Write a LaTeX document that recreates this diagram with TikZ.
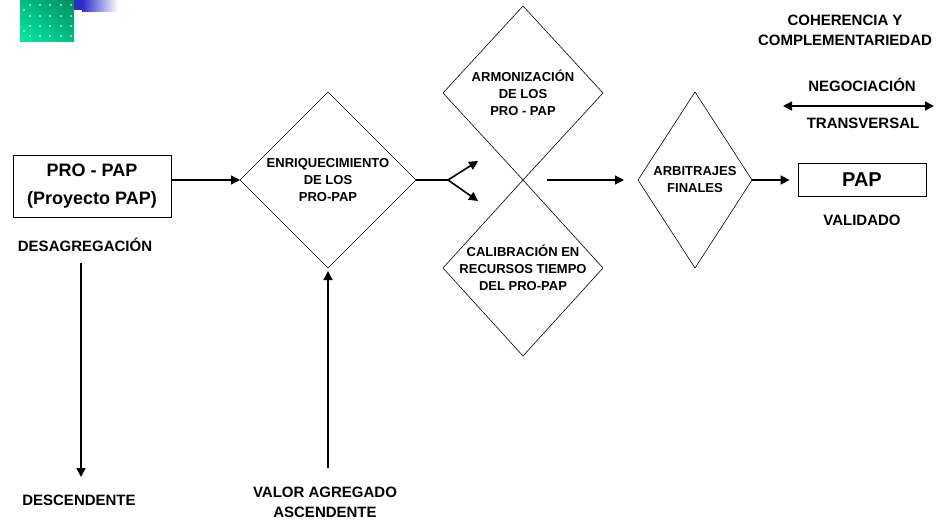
\documentclass[tikz,border=0pt]{standalone}
\usepackage{fontspec}
\setmainfont{Liberation Sans}
\usetikzlibrary{shapes.geometric,arrows.meta,shadings}

\definecolor{verdeOsc}{RGB}{0,140,95}
\definecolor{verdeMed}{RGB}{0,190,130}
\definecolor{verdeCla}{RGB}{0,232,165}
\definecolor{azulBarra}{RGB}{45,45,200}

\begin{document}
\begin{tikzpicture}[x=1pt,y=-1pt,
    rombo/.style={diamond, draw, line width=0.6pt, inner sep=0pt, outer sep=0pt},
    caja/.style={draw, line width=0.8pt, inner sep=0pt, align=center},
    dtxt/.style={align=center, font=\fontsize{13}{17}\selectfont\bfseries},
    etq/.style={align=center, font=\fontsize{15}{20}\selectfont\bfseries},
    flecha/.style={line width=1.6pt, -{Triangle[length=9pt,width=9pt]}}]
  \useasboundingbox (0,0) rectangle (939,522);

  % adorno de la esquina
  \shade[upper left=verdeMed, upper right=verdeOsc, lower left=verdeCla, lower right=verdeMed]
    (20,0) rectangle (74,41);
  \foreach \x in {30,40,50,61,71}
    \foreach \y in {5,16,26,36}
      \fill[white, opacity=0.55] (\x-1,\y-1) rectangle (\x+1,\y+1);
  \fill[white, opacity=0.55] (23,9) rectangle (25,11);
  \fill[white, opacity=0.55] (23,30) rectangle (25,32);
  \fill[azulBarra] (74,0) rectangle (82,10);
  \shade[left color=azulBarra, right color=white] (82,0) rectangle (118,11);

  % cajas y rombos
  \node[caja, minimum width=158pt, minimum height=62pt, font=\fontsize{18}{28}\selectfont\bfseries]
    (pro) at (92,186) {PRO - PAP\\(Proyecto PAP)};
  \node[rombo, minimum width=176pt, minimum height=176pt] (enr) at (328,180) {};
  \node[dtxt] (enrT) at (enr) {ENRIQUECIMIENTO\\DE LOS\\PRO-PAP};
  \node[rombo, minimum width=160pt, minimum height=174pt] (arm) at (523,93) {};
  \node[dtxt] (armT) at (arm) {ARMONIZACIÓN\\DE LOS\\PRO - PAP};
  \node[rombo, minimum width=160pt, minimum height=176pt] (cal) at (523,268) {};
  \node[dtxt] (calT) at (cal) {CALIBRACIÓN EN\\RECURSOS TIEMPO\\DEL PRO-PAP};
  \node[rombo, minimum width=114pt, minimum height=176pt] (arb) at (695,180) {};
  \node[dtxt] (arbT) at (arb) {ARBITRAJES\\FINALES};
  \node[caja, minimum width=128pt, minimum height=33pt, font=\fontsize{20}{24}\selectfont\bfseries]
    (pap) at (862,180) {PAP};

  % etiquetas
  \node[etq] (desag) at (85,245) {DESAGREGACIÓN};
  \node[etq] (desc) at (79,500) {DESCENDENTE};
  \node[etq] (valor) at (325,502) {VALOR AGREGADO\\ASCENDENTE};
  \node[etq] (coh) at (845,30) {COHERENCIA Y\\COMPLEMENTARIEDAD};
  \node[etq] (neg) at (862,85) {NEGOCIACIÓN};
  \node[etq] (trans) at (863,123) {TRANSVERSAL};
  \node[etq] (valid) at (862,220) {VALIDADO};

  % puntos libres
  \coordinate (rama) at (448,180);
  \coordinate (haciaArm) at (478,161);
  \coordinate (haciaCal) at (478,201);
  \coordinate (salida) at (547,180);
  \coordinate (bajaIni) at (81,263);
  \coordinate (bajaFin) at (81,477);
  \coordinate (subeIni) at (328,468);
  \coordinate (negIzq) at (783,106);
  \coordinate (negDer) at (934,106);

  % flechas
  \draw[flecha] (pro.east |- enr.west) -- (enr.west);
  \draw[line width=1.4pt] (enr.east) -- (rama);
  \draw[flecha] (rama) -- (haciaArm);
  \draw[flecha] (rama) -- (haciaCal);
  \draw[flecha, shorten >=14pt] (salida) -- (arb.west);
  \draw[flecha, shorten >=8pt] (arb.east) -- (pap.west);
  \draw[flecha] (bajaIni) -- (bajaFin);
  \draw[flecha, shorten >=3pt] (subeIni) -- (enr.south);
  \draw[line width=1.6pt, {Triangle[length=9pt,width=9pt]}-{Triangle[length=9pt,width=9pt]}]
    (negIzq) -- (negDer);
\end{tikzpicture}
\end{document}
